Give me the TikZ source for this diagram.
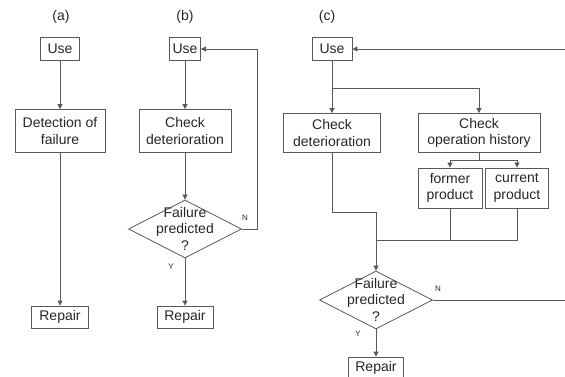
\documentclass[tikz,border=0pt]{standalone}
\usepackage{fontspec}
\setmainfont{Liberation Sans}
\usetikzlibrary{arrows.meta,shapes.geometric}
\begin{document}
\begin{tikzpicture}[x=1pt,y=-1pt,>={Triangle[length=5pt,width=5pt]},
  every node/.style={text=black!85, font=\fontsize{14}{16.5}\selectfont},
  box/.style={draw=black!65, line width=0.8pt, align=center, inner sep=0pt},
  decision/.style={draw=black!65, line width=0.8pt, diamond, inner sep=0pt, minimum width=113pt, minimum height=58pt},
  yn/.style={font=\fontsize{8}{9}\selectfont},
  line/.style={draw=black!65, line width=0.8pt}]
\useasboundingbox (0,0) rectangle (565,377);
\node (la) at (61,17) {(a)};
\node (lb) at (185,17) {(b)};
\node (lc) at (327,17) {(c)};
\node[box, minimum width=39pt, minimum height=23pt] (ua) at (60,49) {Use};
\node[box, minimum width=90pt, minimum height=43pt] (da) at (60,131) {Detection of\\failure};
\node[box, minimum width=57pt, minimum height=22pt] (ra) at (60,317) {Repair};
\node[box, minimum width=31pt, minimum height=23pt] (ub) at (185,49) {Use};
\node[box, minimum width=92pt, minimum height=43pt] (cb) at (185,131) {Check\\deterioration};
\node[decision] (db) at (185,229) {};
\node[align=center] (tb) at (185,228.5) {Failure\\predicted\\?};
\node[box, minimum width=56pt, minimum height=22pt] (rb) at (185,317) {Repair};
\node[yn] (nb) at (245,218) {N};
\node[yn] (yb) at (171,267) {Y};
\node[box, minimum width=40pt, minimum height=23pt] (uc) at (332,49) {Use};
\node[box, minimum width=97pt, minimum height=39pt] (cd) at (332,133) {Check\\deterioration};
\node[box, minimum width=122pt, minimum height=39pt] (oh) at (479,133) {Check\\operation history};
\node[box, minimum width=64pt, minimum height=40pt] (fp) at (450,188) {former\\product};
\node[box, minimum width=63pt, minimum height=40pt] (cp) at (517,188) {current\\product};
\node[decision] (dc) at (376,300) {};
\node[align=center] (tc) at (376,299.5) {Failure\\predicted\\?};
\node[box, minimum width=55pt, minimum height=22pt] (rc) at (376,368) {Repair};
\node[yn] (nc) at (438,289) {N};
\node[yn] (yc) at (358,334) {Y};
\coordinate (cin) at (565,49);
\coordinate (cout) at (565,300);
\coordinate (j1) at (332,88);
\coordinate (j2) at (479,160);
\coordinate (j3) at (376,240);
\coordinate (j4) at (376,212);
\draw[line,->] (ua) -- (da);
\draw[line,->] (da) -- (ra);
\draw[line,->] (ub) -- (cb);
\draw[line,->] (cb) -- (db);
\draw[line,->] (db) -- (rb);
\draw[line,->] (db.east) -- ++(15,0) |- (ub.east);
\draw[line,->] (cin) -- (uc.east);
\draw[line,->] (uc) -- (cd);
\draw[line,->] (j1) -| (oh.north);
\draw[line] (oh) -- (j2);
\draw[line,->] (j2) -| (fp.north);
\draw[line,->] (j2) -| (cp.north);
\draw[line] (cd.south) |- (j4) -- (j3);
\draw[line] (fp.south) |- (j3);
\draw[line] (cp.south) |- (j3);
\draw[line,->] (j3) -- (dc.north);
\draw[line] (dc.east) -- (cout);
\draw[line,->] (dc) -- (rc);
\end{tikzpicture}
\end{document}
